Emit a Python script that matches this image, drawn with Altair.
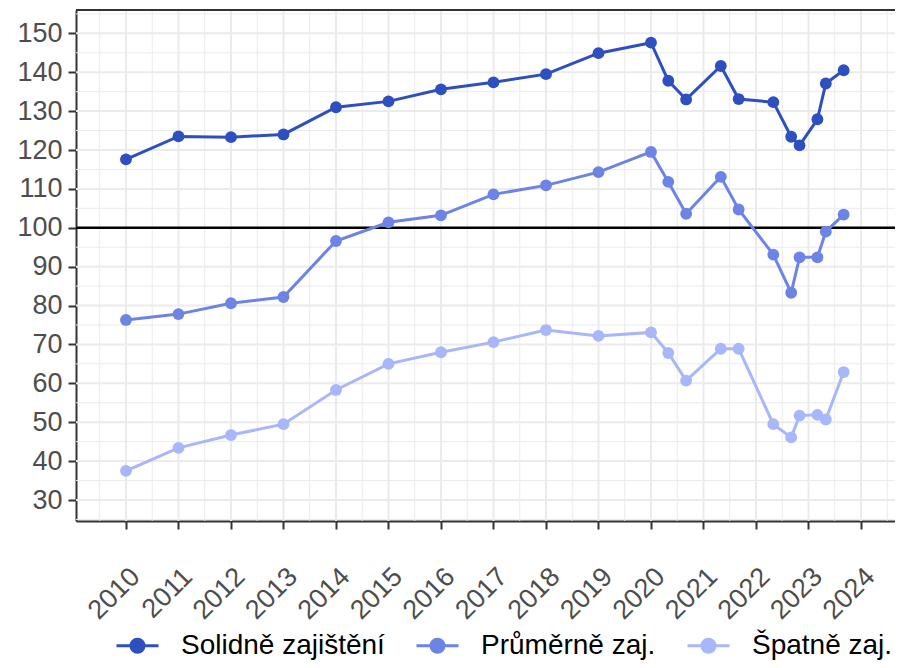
import altair as alt
import pandas as pd

series_names = ["Solidně zajištění", "Průměrně zaj.", "Špatně zaj."]
series_colors = ["#2E4FBF", "#6C84E4", "#A8B6FA"]

dates = [2010, 2011, 2012, 2013, 2014, 2015, 2016, 2017, 2018, 2019, 2020,
         2020.33, 2020.67, 2021.33, 2021.67, 2022.33, 2022.67, 2022.83,
         2023.17, 2023.33, 2023.67]

solid = [117.6, 123.5, 123.3, 124.0, 131.0, 132.5, 135.6, 137.4, 139.5, 144.9,
         147.6, 137.8, 133.0, 141.6, 133.1, 132.3, 123.4, 121.2, 127.9, 137.1, 140.5]
prumer = [76.3, 77.8, 80.6, 82.2, 96.6, 101.4, 103.2, 108.6, 110.9, 114.3,
          119.5, 111.8, 103.6, 113.1, 104.7, 93.1, 83.3, 92.4, 92.4, 99.0, 103.4]
spatne = [37.5, 43.4, 46.7, 49.5, 58.3, 65.0, 68.0, 70.6, 73.7, 72.2,
          73.1, 67.8, 60.7, 68.9, 68.9, 49.5, 46.1, 51.7, 51.9, 50.7, 62.9]

year_ticks = list(range(2010, 2025))
y_ticks = list(range(30, 151, 10))
minor_x = [2009.5 + i for i in range(16)]
minor_y = [25 + 10 * i for i in range(14)]
ref_line = [100]

x_domain = [2009.048, 2024.648]
y_domain = [24.6, 156.0]

rows = []
for name, vals in zip(series_names, [solid, prumer, spatne]):
    for d, v in zip(dates, vals):
        rows.append({"x": d, "value": v, "series": name})
df = pd.DataFrame(rows)

FONT = "Liberation Sans"
W, H = 819, 511

xscale = alt.Scale(domain=x_domain, nice=False, zero=False)
yscale = alt.Scale(domain=y_domain, nice=False, zero=False)

x_axis = alt.Axis(values=year_ticks, format="d", labelAngle=-45, labelAlign="right",
                  labelBaseline="top", labelFontSize=27, labelFont=FONT,
                  labelColor="#4D4D4D", tickSize=8, tickWidth=2, tickColor="#333333",
                  domainColor="#333333", domainWidth=2, labelPadding=34, grid=False,
                  labelOverlap=False, labelFlush=False)
y_axis = alt.Axis(values=y_ticks, labelFontSize=27, labelFont=FONT, labelColor="#4D4D4D",
                  tickSize=8, tickWidth=2, tickColor="#333333", domainColor="#333333",
                  domainWidth=2, labelPadding=6, grid=False, labelOverlap=False,
                  labelFlush=False)

sym_path = ("M -1 0 L 1 0 M -0.31 0 A 0.31 0.31 0 1 0 0.31 0 "
            "A 0.31 0.31 0 1 0 -0.31 0 Z")

color_enc = alt.Color(
    "series:N",
    title=None,
    scale=alt.Scale(domain=series_names, range=series_colors),
    sort=series_names,
    legend=alt.Legend(
        orient="none", legendX=39, legendY=613, direction="horizontal",
        symbolType=sym_path, symbolSize=1764, symbolStrokeWidth=3,
        labelFontSize=28, labelFont=FONT, labelColor="black", labelLimit=400,
        labelOffset=21, columnPadding=25, symbolOpacity=1,
    ),
)

base_x = alt.X("x:Q", scale=xscale, axis=x_axis, title=None)
base_y = alt.Y("value:Q", scale=yscale, axis=y_axis, title=None)

minor_v = alt.Chart(pd.DataFrame({"x": minor_x})).mark_rule(
    color="#EBEBEB", strokeWidth=1).encode(x=alt.X("x:Q", scale=xscale, axis=x_axis, title=None))
major_v = alt.Chart(pd.DataFrame({"x": year_ticks})).mark_rule(
    color="#EBEBEB", strokeWidth=2).encode(x=alt.X("x:Q", scale=xscale, axis=x_axis, title=None))
minor_h = alt.Chart(pd.DataFrame({"value": minor_y})).mark_rule(
    color="#EBEBEB", strokeWidth=1).encode(y=alt.Y("value:Q", scale=yscale, axis=y_axis, title=None))
major_h = alt.Chart(pd.DataFrame({"value": y_ticks})).mark_rule(
    color="#EBEBEB", strokeWidth=2).encode(y=alt.Y("value:Q", scale=yscale, axis=y_axis, title=None))
hline = alt.Chart(pd.DataFrame({"value": ref_line})).mark_rule(
    color="black", strokeWidth=2.5).encode(y=alt.Y("value:Q", scale=yscale, axis=y_axis, title=None))
top_border = alt.Chart(pd.DataFrame({"value": [y_domain[1]]})).mark_rule(
    color="#333333", strokeWidth=2).encode(y=alt.Y("value:Q", scale=yscale, axis=y_axis, title=None))

lines = alt.Chart(df).mark_line(strokeWidth=3).encode(
    x=base_x, y=base_y, color=color_enc, detail="series:N")
points = alt.Chart(df).mark_point(filled=True, size=140, opacity=1).encode(
    x=base_x, y=base_y, color=color_enc)

chart = alt.layer(minor_v, minor_h, major_v, major_h, hline, lines, points, top_border).properties(
    width=W, height=H, autosize="none",
    padding={"left": 68, "top": 2, "right": 0, "bottom": 139},
    background="white",
).configure_view(stroke=None)

chart.save("out.html", embed_options={"renderer": "svg", "actions": False})
